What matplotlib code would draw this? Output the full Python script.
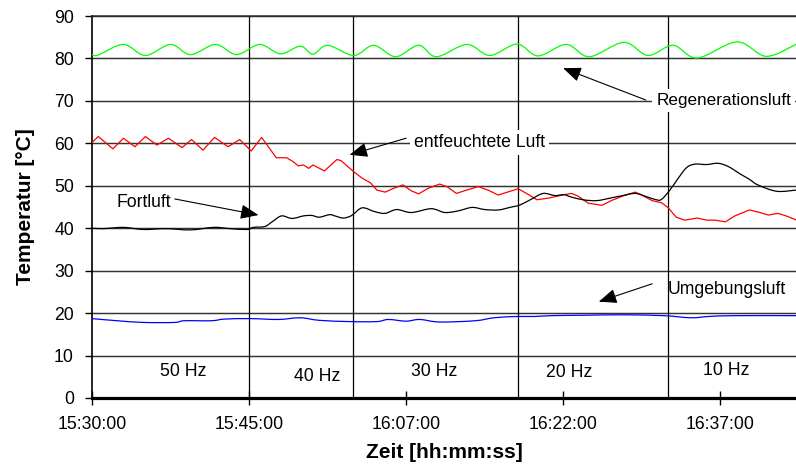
import numpy as np
import matplotlib
matplotlib.use("Agg")
import matplotlib.pyplot as plt
from matplotlib.path import Path
from matplotlib.patches import PathPatch

plt.rcParams["font.family"] = ["Liberation Sans", "DejaVu Sans"]

# sample index along the time axis (category axis, 15 samples per labelled tick)
tick_pos = [0, 15, 30, 45, 60]
tick_labels = ["15:30:00", "15:45:00", "16:07:00", "16:22:00", "16:37:00"]

# Regenerationsluft
regen_t = [0.0, 0.6, 3.0, 5.1, 7.5, 9.4, 11.8, 13.8, 16.0, 18.0, 19.9, 21.1, 22.5,
           25.0, 26.9, 29.0, 31.2, 32.9, 35.8, 38.0, 40.6, 42.6, 45.3, 47.5, 50.8,
           53.1, 55.5, 57.8, 61.6, 64.4, 67.3]
regen_v = [80.9, 80.8, 83.3, 80.7, 83.3, 80.9, 83.3, 80.9, 83.3, 81.1, 82.9, 81.0, 83.1,
           80.7, 83.1, 80.4, 83.1, 80.4, 83.3, 80.7, 83.4, 80.6, 83.3, 80.4, 83.8,
           80.7, 83.1, 80.1, 83.9, 80.5, 83.4]

# entfeuchtete Luft
dry_t = [0.0, 0.6, 2.0, 3.0, 4.1, 5.1, 6.2, 7.3, 8.6, 9.5, 10.6, 11.7, 13.0, 14.1,
         15.2, 16.2, 17.6, 18.6, 19.2, 19.7, 20.2, 20.7, 21.1, 22.2, 23.4, 23.8,
         25.0, 25.8, 26.6, 27.2, 28.0, 28.8, 29.7, 30.5, 31.2, 32.1, 33.2, 33.9,
         34.8, 35.8, 36.9, 37.9, 38.8, 39.8, 40.7, 41.5, 42.5, 43.6, 45.1, 45.8,
         46.4, 47.4, 48.7, 49.6, 50.7, 51.9, 52.5, 53.5, 54.4, 55.0, 55.8, 56.6,
         57.8, 58.7, 59.5, 60.5, 61.4, 62.8, 63.8, 64.6, 65.5, 66.3, 67.3]
dry_v = [60.2, 61.6, 58.7, 61.2, 59.2, 61.6, 59.6, 61.2, 59.0, 60.9, 58.4, 61.4, 59.2, 60.9,
         58.2, 61.4, 56.6, 56.6, 55.7, 54.7, 54.9, 54.1, 54.9, 53.5, 56.2, 55.9,
         53.3, 51.8, 50.7, 49.0, 48.5, 49.4, 50.2, 48.8, 48.1, 49.4, 50.4, 49.8,
         48.2, 49.0, 49.8, 48.9, 47.8, 48.6, 49.3, 48.2, 46.7, 47.1, 47.9, 48.2,
         47.6, 45.9, 45.4, 46.5, 47.6, 48.5, 47.8, 46.5, 46.0, 44.9, 42.6, 41.9,
         42.4, 41.9, 41.9, 41.5, 42.9, 44.3, 43.7, 43.1, 43.5, 42.9, 41.9]

# Fortluft
exh_t = [0.0, 1.1, 3.0, 4.9, 7.1, 9.4, 11.6, 13.2, 14.8, 15.4, 16.5, 17.2, 18.1, 19.1,
         20.2, 21.0, 21.7, 22.7, 23.2, 24.0, 24.8, 25.8, 27.0, 28.0, 29.1, 30.5,
         32.4, 33.7, 35.0, 36.3, 37.5, 38.8, 39.9, 40.9, 42.0, 43.1, 44.2, 45.1,
         45.7, 46.9, 48.2, 49.5, 50.7, 51.9, 53.0, 53.9, 54.4, 55.2, 56.0, 56.8,
         57.6, 58.7, 59.8, 60.8, 61.9, 62.8, 63.6, 65.4, 67.3]
exh_v = [40.0, 39.9, 40.2, 39.7, 39.9, 39.6, 40.2, 39.9, 39.7, 40.2, 40.4, 41.5, 42.9, 42.3,
         42.9, 43.0, 42.6, 43.2, 42.9, 42.4, 43.0, 44.8, 43.9, 43.5, 44.4, 43.7,
         44.6, 43.7, 44.1, 44.9, 44.4, 44.3, 44.9, 45.5, 46.9, 48.2, 47.7, 47.9,
         47.4, 46.7, 46.5, 47.1, 47.7, 48.2, 47.4, 46.7, 46.8, 49.0, 51.8, 54.3,
         55.1, 55.0, 55.3, 54.5, 52.8, 51.5, 50.2, 48.7, 49.0]

# Umgebungsluft
amb_t = [0.0, 2.4, 4.9, 7.9, 8.8, 11.4, 12.7, 15.2, 17.8, 19.9, 21.7, 24.6, 27.2,
         28.3, 30.0, 31.3, 33.2, 36.6, 38.4, 40.5, 42.2, 43.9, 46.9, 50.8, 54.6,
         57.2, 58.9, 61.4, 67.3]
amb_v = [18.7, 18.2, 17.8, 17.8, 18.2, 18.2, 18.6, 18.7, 18.5, 18.9, 18.3, 18.0, 18.0,
         18.5, 18.1, 18.5, 17.9, 18.2, 18.9, 19.2, 19.2, 19.4, 19.5, 19.6, 19.4,
         18.9, 19.2, 19.4, 19.4]

# fan frequency phases
phase_bounds = [15.0, 24.9, 40.7, 55.0]
phase_labels = ["50 Hz", "40 Hz", "30 Hz", "20 Hz", "10 Hz"]
phase_label_t = [8.7, 21.5, 32.7, 45.6, 60.6]
phase_label_y = [6.2, 5.0, 6.3, 5.9, 6.4]


def smooth_path(x, y):
    """Catmull-Rom spline through the points, as cubic Bezier segments."""
    pts = np.column_stack([x, y]).astype(float)
    n = len(pts)
    verts = [pts[0]]
    codes = [Path.MOVETO]
    for i in range(n - 1):
        p0 = pts[i - 1] if i > 0 else pts[i]
        p1, p2 = pts[i], pts[i + 1]
        p3 = pts[i + 2] if i + 2 < n else pts[i + 1]
        verts += [p1 + (p2 - p0) / 6.0, p2 - (p3 - p1) / 6.0, p2]
        codes += [Path.CURVE4] * 3
    return Path(verts, codes)


fig = plt.figure(figsize=(7.96, 4.68), dpi=100)
ax = fig.add_axes([0.1156, 0.1496, 0.8844, 0.8162])

ax.set_xlim(0, 67.24)
ax.set_ylim(0, 90)
ax.set_yticks(range(0, 91, 10))
ax.set_xticks(tick_pos)
ax.set_xticklabels(tick_labels)

ax.set_axisbelow(True)
ax.yaxis.grid(True, color="#333333", lw=1.05)
ax.xaxis.grid(False)

for b in phase_bounds:
    ax.axvline(b, color="black", lw=0.9, zorder=1.5)

ax.spines["right"].set_visible(False)
ax.spines["top"].set_color("#2a2a2a")
ax.spines["top"].set_linewidth(1.1)
ax.spines["left"].set_linewidth(1.2)
ax.spines["bottom"].set_linewidth(2.3)

ax.tick_params(axis="x", direction="inout", length=10, width=1.0, pad=8,
               labelsize=12.7)
ax.tick_params(axis="y", direction="out", length=5, width=1.0, pad=8,
               labelsize=12.7)

ax.add_patch(PathPatch(smooth_path(regen_t, regen_v), facecolor="none",
                       edgecolor="#00ff00", lw=0.9, zorder=3))
ax.plot(dry_t, dry_v, color="#ff0000", lw=0.9, zorder=3)
ax.add_patch(PathPatch(smooth_path(exh_t, exh_v), facecolor="none",
                       edgecolor="black", lw=0.9, zorder=3))
ax.add_patch(PathPatch(smooth_path(amb_t, amb_v), facecolor="none",
                       edgecolor="#0000ff", lw=0.9, zorder=3))

for lab, t, y in zip(phase_labels, phase_label_t, phase_label_y):
    ax.text(t, y, lab, ha="center", va="center", fontsize=12.7, zorder=4)

arrow = dict(arrowstyle="-|>,head_length=1.1,head_width=0.45", color="black",
             lw=0.8, shrinkA=0, shrinkB=0, mutation_scale=10)
box = dict(facecolor="white", edgecolor="none", pad=3)

ax.text(53.9, 70.0, "Regenerationsluft", ha="left", va="center", fontsize=12.3,
        bbox=box, zorder=4, clip_on=False)
ax.annotate("", xy=(45.0, 77.7), xytext=(52.9, 70.2), arrowprops=arrow, zorder=4)

ax.text(30.75, 60.2, "entfeuchtete Luft", ha="left", va="center", fontsize=12.7,
        bbox=box, zorder=4)
ax.annotate("", xy=(24.6, 57.3), xytext=(30.0, 61.2), arrowprops=arrow, zorder=4)

ax.text(2.3, 46.0, "Fortluft", ha="left", va="center", fontsize=12.7, zorder=4)
ax.annotate("", xy=(15.9, 43.1), xytext=(7.9, 46.9), arrowprops=arrow, zorder=4)

ax.text(55.0, 25.6, "Umgebungsluft", ha="left", va="center", fontsize=12.7, zorder=4)
ax.annotate("", xy=(48.4, 22.7), xytext=(53.5, 26.9), arrowprops=arrow, zorder=4)

ax.set_xlabel("Zeit [hh:mm:ss]", fontsize=15, fontweight="bold", labelpad=7)
ax.set_ylabel("Temperatur [°C]", fontsize=15, fontweight="bold", labelpad=14)

fig.savefig("out.png", dpi=100)
